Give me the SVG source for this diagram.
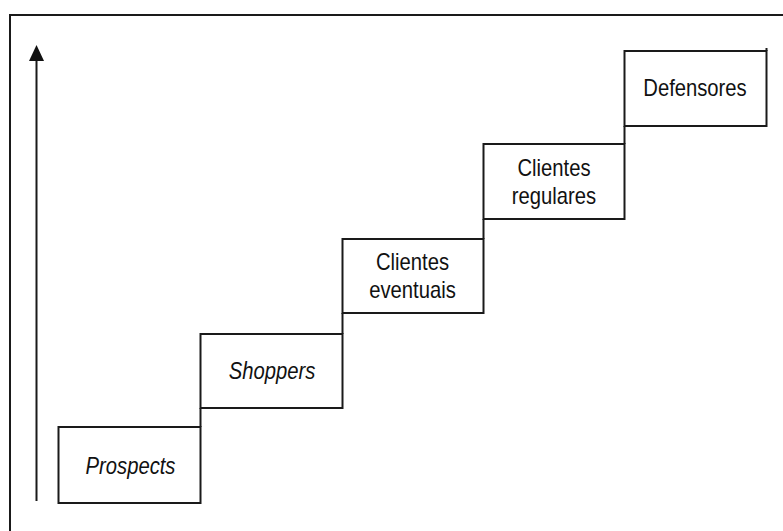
<svg xmlns="http://www.w3.org/2000/svg" width="783" height="531" viewBox="0 0 783 531">
  <style>
    .frame { fill: none; stroke: #1a1a1a; stroke-width: 2; }
    .box { fill: #ffffff; stroke: #1a1a1a; stroke-width: 2; }
    .conn { fill: none; stroke: #1a1a1a; stroke-width: 2; }
    .lbl { font-family: "Liberation Sans", Arial, sans-serif; font-size: 23px; fill: #111111; text-anchor: middle; }
    .it { font-style: italic; }
  </style>
  <rect x="0" y="0" width="783" height="531" fill="#ffffff"/>
  <path class="frame" d="M10,531 V15 H783"/>

  <g id="connectors">
    <line class="conn" x1="36.5" y1="501" x2="36.5" y2="58"/>
    <polygon points="36.5,45 29,61 44,61" fill="#111111"/>
    <line class="conn" x1="200.5" y1="408" x2="200.5" y2="427"/>
    <line class="conn" x1="342.5" y1="313" x2="342.5" y2="334"/>
    <line class="conn" x1="483.5" y1="219" x2="483.5" y2="239"/>
    <line class="conn" x1="624.5" y1="126" x2="624.5" y2="144"/>
    <line class="conn" x1="766.5" y1="48" x2="766.5" y2="51"/>
  </g>

  <g id="prospects">
    <rect class="box" x="58.5" y="427" width="142" height="76"/>
    <text class="lbl it" transform="translate(130.5,474) scale(0.88,1)">Prospects</text>
  </g>
  <g id="shoppers">
    <rect class="box" x="200.5" y="334" width="142" height="74"/>
    <text class="lbl it" transform="translate(272,379) scale(0.88,1)">Shoppers</text>
  </g>
  <g id="clientes-eventuais">
    <rect class="box" x="342.5" y="239" width="141" height="74"/>
    <text class="lbl" transform="translate(412.5,270) scale(0.88,1)">Clientes</text>
    <text class="lbl" transform="translate(412.5,298) scale(0.88,1)">eventuais</text>
  </g>
  <g id="clientes-regulares">
    <rect class="box" x="483.5" y="144" width="141" height="75"/>
    <text class="lbl" transform="translate(554,176) scale(0.88,1)">Clientes</text>
    <text class="lbl" transform="translate(554,204) scale(0.88,1)">regulares</text>
  </g>
  <g id="defensores">
    <rect class="box" x="624.5" y="51" width="142" height="75"/>
    <text class="lbl" transform="translate(695,95.5) scale(0.88,1)">Defensores</text>
  </g>
</svg>
